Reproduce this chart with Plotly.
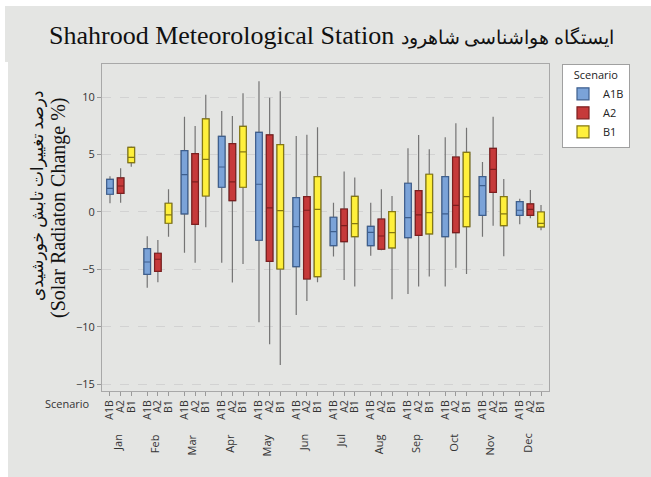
import plotly.graph_objects as go

# Monthly solar radiation change (%) box statistics per emission scenario
months = ["Jan", "Feb", "Mar", "Apr", "May", "Jun",
          "Jul", "Aug", "Sep", "Oct", "Nov", "Dec"]
scenarios = ["A1B", "A2", "B1"]

a1b_low = [0.76, -6.58, -3.54, -4.41, -9.59, -8.96, -3.88, -3.80, -7.13, -6.49, -2.15, -1.07]
a1b_q1 = [1.54, -5.42, -0.17, 2.15, -2.46, -4.75, -2.93, -2.93, -2.23, -2.15, -0.29, -0.29]
a1b_med = [2.06, -4.35, 3.24, 3.91, 2.41, -1.28, -1.71, -1.77, -0.49, -0.17, 2.29, 0.15]
a1b_q3 = [2.84, -3.19, 5.33, 6.58, 6.93, 1.24, -0.46, -1.25, 2.50, 3.07, 3.07, 0.90]
a1b_high = [3.10, -2.11, 8.29, 8.78, 11.36, 6.61, 0.81, 0.81, 5.54, 6.49, 4.35, 1.16]

a2_low = [0.81, -6.11, -4.41, -6.14, -11.50, -7.74, -5.91, -3.33, -6.49, -4.84, -1.19, -0.55]
a2_q1 = [1.62, -5.16, -1.07, 0.98, -4.29, -5.83, -2.58, -3.24, -2.03, -1.80, 1.71, -0.29]
a2_med = [2.26, -4.11, 2.61, 2.61, 0.35, 0.15, -1.19, -2.09, -0.26, 0.58, 3.71, 0.23]
a2_q3 = [2.96, -3.59, 5.07, 5.94, 6.70, 1.33, 0.26, -0.61, 1.86, 4.78, 5.54, 0.70]
a2_high = [3.80, -2.43, 7.48, 8.35, 9.94, 6.72, 3.51, 1.97, 6.70, 7.71, 8.29, 1.91]

b1_low = [3.94, -2.15, -1.33, -4.52, -13.30, -6.11, -6.49, -7.59, -5.62, -5.39, -3.86, -1.59]
b1_q1 = [4.29, -0.98, 1.39, 2.15, -4.96, -5.62, -2.15, -3.13, -1.91, -1.28, -1.19, -1.30]
b1_med = [4.75, -0.26, 4.58, 5.22, 0.12, 0.23, -1.01, -1.80, -0.06, 1.33, -0.17, -0.99]
b1_q3 = [5.62, 0.76, 8.09, 7.45, 5.86, 3.07, 1.36, 0.03, 3.28, 5.19, 1.33, 0.00]
b1_high = [5.70, 1.97, 10.20, 10.32, 10.49, 7.36, 2.99, 1.39, 5.45, 7.33, 2.87, 0.60]

y_ticks = [10, 5, 0, -5, -10, -15]

stats = {
    "A1B": (a1b_low, a1b_q1, a1b_med, a1b_q3, a1b_high),
    "A2": (a2_low, a2_q1, a2_med, a2_q3, a2_high),
    "B1": (b1_low, b1_q1, b1_med, b1_q3, b1_high),
}
fills = {"A1B": "#7ba3d8", "A2": "#c63a3a", "B1": "#fff03c"}
edges = {"A1B": "#3e5f8e", "A2": "#7c1f1f", "B1": "#857812"}
whisker_grey = "#747474"

# Page geometry (pixels)
W, H = 651, 477
ML, MR, MT, MB = 102, 102, 64, 86
PW, PH = W - ML - MR, H - MT - MB


def fx(px):
    return (px - ML) / PW


def fy(py):
    return (H - MB - py) / PH


GROUP = 3.5  # slot spacing between month groups


def pos(m, s):
    return m * GROUP + s


fig = go.Figure()

for s_idx, name in enumerate(scenarios):
    lo, q1, med, q3, hi = stats[name]
    xs = [pos(m, s_idx) for m in range(len(months))]
    # full box with grey whiskers underneath
    fig.add_trace(go.Box(
        x=xs, lowerfence=lo, q1=q1, median=med, q3=q3, upperfence=hi,
        width=0.62, whiskerwidth=0, fillcolor=fills[name],
        line=dict(color=whisker_grey, width=1.2),
        showlegend=False, hoverinfo="skip", name=name,
    ))
    # coloured box body on top
    fig.add_trace(go.Box(
        x=xs, lowerfence=q1, q1=q1, median=med, q3=q3, upperfence=q3,
        width=0.62, whiskerwidth=0, fillcolor=fills[name],
        line=dict(color=edges[name], width=1.2),
        name=name, showlegend=True,
    ))

tick_vals = [pos(m, s) for m in range(len(months)) for s in range(len(scenarios))]
tick_text = [s for _ in months for s in scenarios]

sans = "Open Sans, DejaVu Sans, sans-serif"
axis_font = dict(family=sans, size=11, color="#333333")

fig.update_layout(
    width=W, height=H,
    margin=dict(l=ML, r=MR, t=MT, b=MB, pad=0),
    paper_bgcolor="white",
    plot_bgcolor="white",
    boxmode="overlay",
    font=axis_font,
    xaxis=dict(
        range=[-0.75, 41.25], tickmode="array", tickvals=tick_vals, ticktext=tick_text,
        tickangle=-90, tickfont=dict(size=10.5, color="#333333"),
        ticks="outside", ticklen=4, tickcolor="#9a9a9a",
        showgrid=False, zeroline=False,
        showline=True, linecolor="#a8a8a8", linewidth=1, mirror=True,
    ),
    yaxis=dict(
        range=[-15.57, 12.87], tickmode="array", tickvals=y_ticks,
        ticks="outside", ticklen=4, tickcolor="#9a9a9a",
        showgrid=True, gridcolor="#d2d2d2", griddash="dash", gridwidth=1,
        zeroline=False,
        showline=True, linecolor="#a8a8a8", linewidth=1, mirror=True,
    ),
    legend=dict(
        x=fx(562), y=fy(64), xanchor="left", yanchor="top",
        bgcolor="white", bordercolor="#a0a0a0", borderwidth=1,
        font=dict(family=sans, size=11, color="#222222"),
        title=dict(text="Scenario", side="top center",
                   font=dict(family=sans, size=11, color="#222222")),
        tracegroupgap=0, itemwidth=30,
    ),
    shapes=[
        dict(type="rect", xref="paper", yref="paper", layer="below",
             x0=fx(5), x1=fx(651), y0=fy(62), y1=fy(6),
             fillcolor="#e4e5e3", line=dict(width=0)),
        dict(type="rect", xref="paper", yref="paper", layer="below",
             x0=fx(8), x1=fx(651), y0=fy(477), y1=fy(62),
             fillcolor="#e4e5e3", line=dict(width=0)),
    ],
)

title_text = ("Shahrood Meteorological Station "
              "<span style='font-size:19px'>ایستگاه هواشناسی شاهرود</span>")

annotations = [
    dict(text=title_text,
         xref="paper", yref="paper", x=fx(331), y=fy(36),
         xanchor="center", yanchor="middle", showarrow=False,
         font=dict(family="Liberation Serif, DejaVu Serif, serif", size=26, color="#111111")),
    dict(text="درصد تغییرات تابش خورشیدی", textangle=-90,
         xref="paper", yref="paper", x=fx(37), y=fy(196),
         xanchor="center", yanchor="middle", showarrow=False,
         font=dict(family="Liberation Serif, DejaVu Sans, serif", size=17, color="#111111")),
    dict(text="(Solar Radiaton Change %)", textangle=-90,
         xref="paper", yref="paper", x=fx(58), y=fy(208),
         xanchor="center", yanchor="middle", showarrow=False,
         font=dict(family="Liberation Serif, DejaVu Serif, serif", size=20, color="#111111")),
    dict(text="Scenario", xref="paper", yref="paper", x=fx(92), y=fy(404),
         xanchor="right", yanchor="middle", showarrow=False,
         font=dict(family=sans, size=11, color="#333333")),
]
for m, mon in enumerate(months):
    annotations.append(dict(
        text=mon, textangle=-90, xref="x", yref="paper",
        x=pos(m, 1) - 0.3, y=fy(432), xanchor="center", yanchor="top", showarrow=False,
        font=dict(family=sans, size=11, color="#333333"),
    ))
fig.update_layout(annotations=annotations)

fig.write_html("out.html")
